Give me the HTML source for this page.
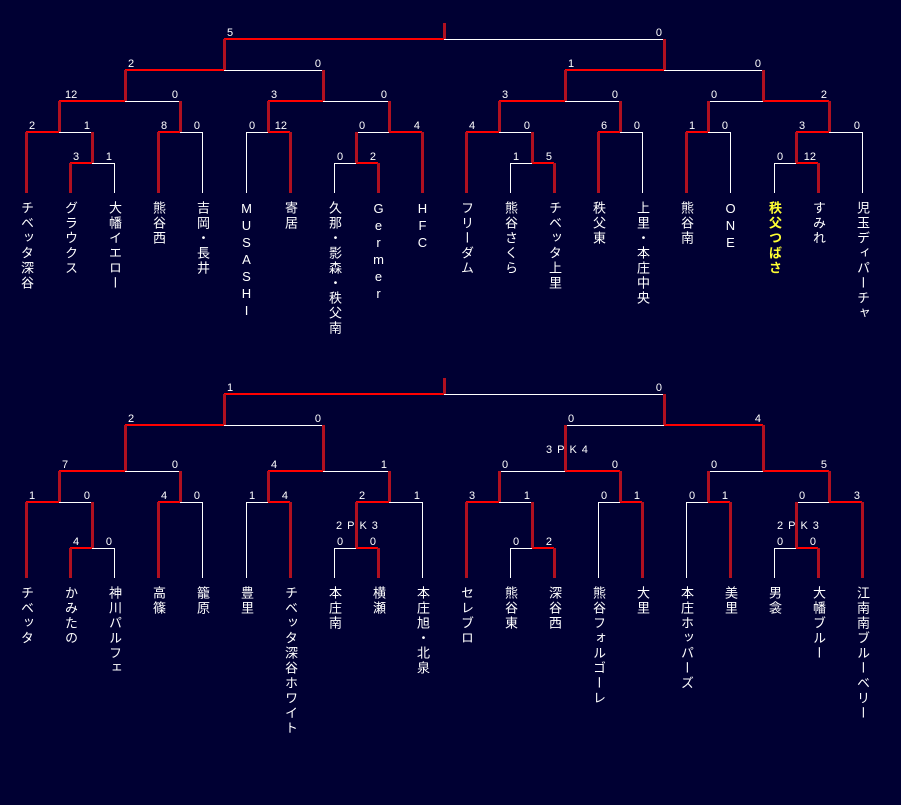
<!DOCTYPE html>
<html><head><meta charset="utf-8">
<style>
html,body{margin:0;padding:0;background:#000033;}
body{width:901px;height:805px;position:relative;overflow:hidden;}
svg{position:absolute;left:0;top:0;}
.n{position:absolute;width:16px;writing-mode:vertical-rl;text-orientation:upright;font-family:"Liberation Sans","Noto Sans CJK JP",sans-serif;font-size:13px;line-height:16px;letter-spacing:2px;color:#fff;}
.t{top:201px}.b{top:586px}
.y{color:#ffff33;font-weight:bold}
</style></head><body>
<svg width="901" height="805" xmlns="http://www.w3.org/2000/svg" font-family="Liberation Sans, sans-serif" font-size="11" fill="#fff">
<g id="w" stroke="#fff" stroke-width="1" shape-rendering="crispEdges">
<!-- top white horizontals -->
<line x1="444" y1="39.5" x2="664" y2="39.5"/>
<line x1="224" y1="70.5" x2="323" y2="70.5"/><line x1="664" y1="70.5" x2="763" y2="70.5"/>
<line x1="125" y1="101.5" x2="180" y2="101.5"/><line x1="323" y1="101.5" x2="389" y2="101.5"/><line x1="565" y1="101.5" x2="620" y2="101.5"/><line x1="708" y1="101.5" x2="763" y2="101.5"/>
<line x1="59" y1="132.5" x2="92" y2="132.5"/><line x1="180" y1="132.5" x2="202" y2="132.5"/><line x1="246" y1="132.5" x2="268" y2="132.5"/><line x1="356" y1="132.5" x2="389" y2="132.5"/><line x1="499" y1="132.5" x2="532" y2="132.5"/><line x1="620" y1="132.5" x2="642" y2="132.5"/><line x1="708" y1="132.5" x2="730" y2="132.5"/><line x1="829" y1="132.5" x2="862" y2="132.5"/>
<line x1="92" y1="163.5" x2="114" y2="163.5"/><line x1="334" y1="163.5" x2="356" y2="163.5"/><line x1="510" y1="163.5" x2="532" y2="163.5"/><line x1="774" y1="163.5" x2="796" y2="163.5"/>
<!-- top white leaf verticals -->
<line x1="114.5" y1="163" x2="114.5" y2="193"/><line x1="202.5" y1="132" x2="202.5" y2="193"/><line x1="246.5" y1="132" x2="246.5" y2="193"/><line x1="334.5" y1="163" x2="334.5" y2="193"/><line x1="510.5" y1="163" x2="510.5" y2="193"/><line x1="642.5" y1="132" x2="642.5" y2="193"/><line x1="730.5" y1="132" x2="730.5" y2="193"/><line x1="774.5" y1="163" x2="774.5" y2="193"/><line x1="862.5" y1="132" x2="862.5" y2="193"/>
<!-- bottom white horizontals -->
<line x1="444" y1="394.5" x2="664" y2="394.5"/>
<line x1="224" y1="425.5" x2="323" y2="425.5"/><line x1="565" y1="425.5" x2="664" y2="425.5"/>
<line x1="125" y1="471.5" x2="180" y2="471.5"/><line x1="323" y1="471.5" x2="389" y2="471.5"/><line x1="499" y1="471.5" x2="565" y2="471.5"/><line x1="708" y1="471.5" x2="763" y2="471.5"/>
<line x1="59" y1="502.5" x2="92" y2="502.5"/><line x1="180" y1="502.5" x2="202" y2="502.5"/><line x1="246" y1="502.5" x2="268" y2="502.5"/><line x1="389" y1="502.5" x2="422" y2="502.5"/><line x1="499" y1="502.5" x2="532" y2="502.5"/><line x1="598" y1="502.5" x2="620" y2="502.5"/><line x1="686" y1="502.5" x2="708" y2="502.5"/><line x1="796" y1="502.5" x2="829" y2="502.5"/>
<line x1="92" y1="548.5" x2="114" y2="548.5"/><line x1="334" y1="548.5" x2="356" y2="548.5"/><line x1="510" y1="548.5" x2="532" y2="548.5"/><line x1="774" y1="548.5" x2="796" y2="548.5"/>
<!-- bottom white leaf verticals -->
<line x1="114.5" y1="548" x2="114.5" y2="578"/><line x1="202.5" y1="502" x2="202.5" y2="578"/><line x1="246.5" y1="502" x2="246.5" y2="578"/><line x1="334.5" y1="548" x2="334.5" y2="578"/><line x1="422.5" y1="502" x2="422.5" y2="578"/><line x1="510.5" y1="548" x2="510.5" y2="578"/><line x1="598.5" y1="502" x2="598.5" y2="578"/><line x1="686.5" y1="502" x2="686.5" y2="578"/><line x1="774.5" y1="548" x2="774.5" y2="578"/>
</g>
<g fill="#ff0000" shape-rendering="crispEdges">
<!-- top red horizontals -->
<rect x="224" y="38" width="220" height="2"/>
<rect x="125" y="69" width="99" height="2"/><rect x="565" y="69" width="99" height="2"/>
<rect x="59" y="100" width="66" height="2"/><rect x="268" y="100" width="55" height="2"/><rect x="499" y="100" width="66" height="2"/><rect x="763" y="100" width="66" height="2"/>
<rect x="26" y="131" width="33" height="2"/><rect x="158" y="131" width="22" height="2"/><rect x="268" y="131" width="22" height="2"/><rect x="389" y="131" width="33" height="2"/><rect x="466" y="131" width="33" height="2"/><rect x="598" y="131" width="22" height="2"/><rect x="686" y="131" width="22" height="2"/><rect x="796" y="131" width="33" height="2"/>
<rect x="70" y="162" width="22" height="2"/><rect x="356" y="162" width="22" height="2"/><rect x="532" y="162" width="22" height="2"/><rect x="796" y="162" width="22" height="2"/>
<!-- bottom red horizontals -->
<rect x="224" y="393" width="220" height="2"/>
<rect x="125" y="424" width="99" height="2"/><rect x="664" y="424" width="99" height="2"/>
<rect x="59" y="470" width="66" height="2"/><rect x="268" y="470" width="55" height="2"/><rect x="565" y="470" width="55" height="2"/><rect x="763" y="470" width="66" height="2"/>
<rect x="26" y="501" width="33" height="2"/><rect x="158" y="501" width="22" height="2"/><rect x="268" y="501" width="22" height="2"/><rect x="356" y="501" width="33" height="2"/><rect x="466" y="501" width="33" height="2"/><rect x="620" y="501" width="22" height="2"/><rect x="708" y="501" width="22" height="2"/><rect x="829" y="501" width="33" height="2"/>
<rect x="70" y="547" width="22" height="2"/><rect x="356" y="547" width="22" height="2"/><rect x="532" y="547" width="22" height="2"/><rect x="796" y="547" width="22" height="2"/>
</g>
<g fill="#b01020" shape-rendering="crispEdges">
<!-- top verticals -->
<rect x="443" y="23" width="3" height="16"/>
<rect x="223" y="39" width="3" height="31"/><rect x="663" y="39" width="3" height="31"/>
<rect x="124" y="70" width="3" height="31"/><rect x="322" y="70" width="3" height="31"/><rect x="564" y="70" width="3" height="31"/><rect x="762" y="70" width="3" height="31"/>
<rect x="58" y="101" width="3" height="31"/><rect x="179" y="101" width="3" height="31"/><rect x="267" y="101" width="3" height="31"/><rect x="388" y="101" width="3" height="31"/><rect x="498" y="101" width="3" height="31"/><rect x="619" y="101" width="3" height="31"/><rect x="707" y="101" width="3" height="31"/><rect x="828" y="101" width="3" height="31"/>
<rect x="91" y="132" width="3" height="31"/><rect x="355" y="132" width="3" height="31"/><rect x="531" y="132" width="3" height="31"/><rect x="795" y="132" width="3" height="31"/>
<rect x="25" y="132" width="3" height="61"/><rect x="69" y="163" width="3" height="30"/><rect x="157" y="132" width="3" height="61"/><rect x="289" y="132" width="3" height="61"/><rect x="377" y="163" width="3" height="30"/><rect x="421" y="132" width="3" height="61"/><rect x="465" y="132" width="3" height="61"/><rect x="553" y="163" width="3" height="30"/><rect x="597" y="132" width="3" height="61"/><rect x="685" y="132" width="3" height="61"/><rect x="817" y="163" width="3" height="30"/>
<!-- bottom verticals -->
<rect x="443" y="378" width="3" height="16"/>
<rect x="223" y="394" width="3" height="31"/><rect x="663" y="394" width="3" height="31"/>
<rect x="124" y="425" width="3" height="46"/><rect x="322" y="425" width="3" height="46"/><rect x="564" y="425" width="3" height="46"/><rect x="762" y="425" width="3" height="46"/>
<rect x="58" y="471" width="3" height="31"/><rect x="179" y="471" width="3" height="31"/><rect x="267" y="471" width="3" height="31"/><rect x="388" y="471" width="3" height="31"/><rect x="498" y="471" width="3" height="31"/><rect x="619" y="471" width="3" height="31"/><rect x="707" y="471" width="3" height="31"/><rect x="828" y="471" width="3" height="31"/>
<rect x="91" y="502" width="3" height="46"/><rect x="355" y="502" width="3" height="46"/><rect x="531" y="502" width="3" height="46"/><rect x="795" y="502" width="3" height="46"/>
<rect x="25" y="502" width="3" height="76"/><rect x="69" y="548" width="3" height="30"/><rect x="157" y="502" width="3" height="76"/><rect x="289" y="502" width="3" height="76"/><rect x="377" y="548" width="3" height="30"/><rect x="465" y="502" width="3" height="76"/><rect x="553" y="548" width="3" height="30"/><rect x="641" y="502" width="3" height="76"/><rect x="729" y="502" width="3" height="76"/><rect x="817" y="548" width="3" height="30"/><rect x="861" y="502" width="3" height="76"/>
</g>
<!-- labels: left start -->
<g text-anchor="start">
<text x="227" y="36">5</text>
<text x="128" y="67">2</text><text x="568" y="67">1</text>
<text x="65" y="98">12</text><text x="271" y="98">3</text><text x="502" y="98">3</text><text x="711" y="98">0</text>
<text x="29" y="129">2</text><text x="161" y="129">8</text><text x="249" y="129">0</text><text x="359" y="129">0</text><text x="469" y="129">4</text><text x="601" y="129">6</text><text x="689" y="129">1</text><text x="799" y="129">3</text>
<text x="73" y="160">3</text><text x="337" y="160">0</text><text x="513" y="160">1</text><text x="777" y="160">0</text>
<text x="227" y="391">1</text>
<text x="128" y="422">2</text><text x="568" y="422">0</text>
<text x="62" y="468">7</text><text x="271" y="468">4</text><text x="502" y="468">0</text><text x="711" y="468">0</text>
<text x="29" y="499">1</text><text x="161" y="499">4</text><text x="249" y="499">1</text><text x="359" y="499">2</text><text x="469" y="499">3</text><text x="601" y="499">0</text><text x="689" y="499">0</text><text x="799" y="499">0</text>
<text x="73" y="545">4</text><text x="337" y="545">0</text><text x="513" y="545">0</text><text x="777" y="545">0</text>
<text x="546" y="453" letter-spacing="5">3PK4</text>
<text x="336" y="529" letter-spacing="5">2PK3</text>
<text x="777" y="529" letter-spacing="5">2PK3</text>
</g>
<g text-anchor="end">
<text x="662" y="36">0</text>
<text x="321" y="67">0</text><text x="761" y="67">0</text>
<text x="178" y="98">0</text><text x="387" y="98">0</text><text x="618" y="98">0</text><text x="827" y="98">2</text>
<text x="90" y="129">1</text><text x="200" y="129">0</text><text x="287" y="129">12</text><text x="420" y="129">4</text><text x="530" y="129">0</text><text x="640" y="129">0</text><text x="728" y="129">0</text><text x="860" y="129">0</text>
<text x="112" y="160">1</text><text x="376" y="160">2</text><text x="552" y="160">5</text><text x="816" y="160">12</text>
<text x="662" y="391">0</text>
<text x="321" y="422">0</text><text x="761" y="422">4</text>
<text x="178" y="468">0</text><text x="387" y="468">1</text><text x="618" y="468">0</text><text x="827" y="468">5</text>
<text x="90" y="499">0</text><text x="200" y="499">0</text><text x="288" y="499">4</text><text x="420" y="499">1</text><text x="530" y="499">1</text><text x="640" y="499">1</text><text x="728" y="499">1</text><text x="860" y="499">3</text>
<text x="112" y="545">0</text><text x="376" y="545">0</text><text x="552" y="545">2</text><text x="816" y="545">0</text>
</g>
</svg>
<div class="n t" style="left:18px">チベッタ深谷</div>
<div class="n t" style="left:62px">グラウクス</div>
<div class="n t" style="left:106px">大幡イエロー</div>
<div class="n t" style="left:150px">熊谷西</div>
<div class="n t" style="left:194px">吉岡・長井</div>
<div class="n t" style="left:238px">MUSASHI</div>
<div class="n t" style="left:282px">寄居</div>
<div class="n t" style="left:326px">久那・影森・秩父南</div>
<div class="n t" style="left:370px">Germer</div>
<div class="n t" style="left:414px">HFC</div>
<div class="n t" style="left:458px">フリーダム</div>
<div class="n t" style="left:502px">熊谷さくら</div>
<div class="n t" style="left:546px">チベッタ上里</div>
<div class="n t" style="left:590px">秩父東</div>
<div class="n t" style="left:634px">上里・本庄中央</div>
<div class="n t" style="left:678px">熊谷南</div>
<div class="n t" style="left:722px">ONE</div>
<div class="n t y" style="left:766px">秩父つばさ</div>
<div class="n t" style="left:810px">すみれ</div>
<div class="n t" style="left:854px">児玉ディパーチャ</div>
<div class="n b" style="left:18px">チベッタ</div>
<div class="n b" style="left:62px">かみたの</div>
<div class="n b" style="left:106px">神川パルフェ</div>
<div class="n b" style="left:150px">高篠</div>
<div class="n b" style="left:194px">籠原</div>
<div class="n b" style="left:238px">豊里</div>
<div class="n b" style="left:282px">チベッタ深谷ホワイト</div>
<div class="n b" style="left:326px">本庄南</div>
<div class="n b" style="left:370px">横瀬</div>
<div class="n b" style="left:414px">本庄旭・北泉</div>
<div class="n b" style="left:458px">セレブロ</div>
<div class="n b" style="left:502px">熊谷東</div>
<div class="n b" style="left:546px">深谷西</div>
<div class="n b" style="left:590px">熊谷フォルゴーレ</div>
<div class="n b" style="left:634px">大里</div>
<div class="n b" style="left:678px">本庄ホッパーズ</div>
<div class="n b" style="left:722px">美里</div>
<div class="n b" style="left:766px">男衾</div>
<div class="n b" style="left:810px">大幡ブルー</div>
<div class="n b" style="left:854px">江南南ブルーベリー</div>
</body></html>
